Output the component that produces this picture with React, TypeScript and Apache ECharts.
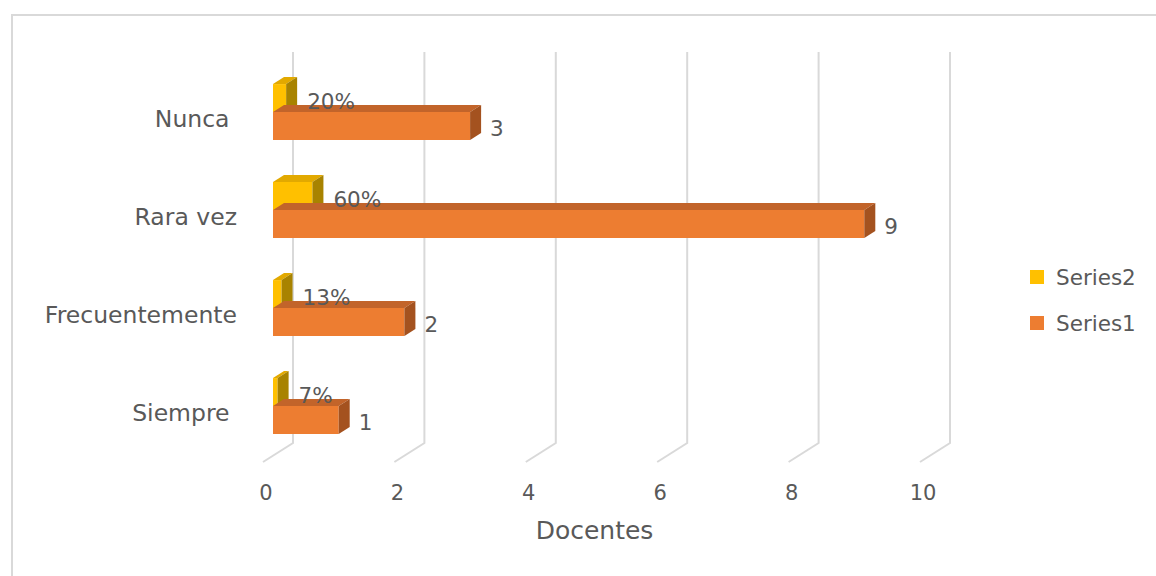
import React, { useEffect, useRef } from "react";
import * as echarts from "echarts";

const categories = ["Nunca ", "Rara vez", "Frecuentemente", "Siempre "];
const series1 = [3, 9, 2, 1];
const series2 = [0.2, 0.6, 0.13, 0.07];
const series2Labels = ["20%", "60%", "13%", "7%"];
const xTicks = [0, 2, 4, 6, 8, 10];

const FONT = '"DejaVu Sans", sans-serif';
const TEXT = "#595959";
const GRIDC = "#d9d9d9";
const DX = 11;
const DY = 7;

function barRender(face: string, top: string, side: string, upper: boolean) {
  return (params: any, api: any) => {
    const v = api.value(0);
    const cat = api.value(1);
    const start = api.coord([0, cat]);
    const end = api.coord([v, cat]);
    const band = api.size([0, 1])[1];
    const h = band * 0.285;
    const yt = upper ? start[1] - h : start[1];
    const yb = yt + h;
    const x0 = start[0];
    const x1 = end[0];
    return {
      type: "group",
      children: [
        { type: "rect", shape: { x: x0, y: yt, width: x1 - x0, height: h }, style: { fill: face } },
        {
          type: "polygon",
          shape: { points: [[x0, yt], [x1, yt], [x1 + DX, yt - DY], [x0 + DX, yt - DY]] },
          style: { fill: top },
        },
        {
          type: "polygon",
          shape: { points: [[x1, yt], [x1 + DX, yt - DY], [x1 + DX, yb - DY], [x1, yb]] },
          style: { fill: side },
        },
      ],
    };
  };
}

export default function App() {
  const ref = useRef<HTMLDivElement>(null);
  useEffect(() => {
    if (!ref.current) return;
    const chart = echarts.init(ref.current, null, { renderer: "svg" });
    const option: any = {
      animation: false,
      backgroundColor: "#ffffff",
      textStyle: { fontFamily: FONT },
      graphic: [
        {
          type: "rect",
          shape: { x: 12, y: 15, width: 1170, height: 600 },
          style: { fill: "none", stroke: GRIDC, lineWidth: 2 },
          silent: true,
        },
      ],
      grid: { left: 273, right: 226, top: 63, bottom: 121 },
      xAxis: {
        type: "value",
        min: 0,
        max: 10,
        interval: 2,
        axisLine: { show: false },
        axisTick: { show: false },
        splitLine: { show: false },
        axisLabel: {
          color: TEXT,
          fontSize: 21,
          fontFamily: FONT,
          margin: 27,
          padding: [0, 14, 0, 0],
        },
        name: "Docentes",
        nameLocation: "middle",
        nameGap: 63,
        nameTextStyle: {
          color: TEXT,
          fontSize: 25,
          fontFamily: FONT,
          padding: [0, 14, 0, 0],
        },
      },
      yAxis: {
        type: "category",
        data: categories,
        inverse: true,
        axisLine: { show: false },
        axisTick: { show: false },
        splitLine: { show: false },
        axisLabel: {
          color: TEXT,
          fontSize: 23.5,
          fontFamily: FONT,
          margin: 36,
          verticalAlign: "top",
          lineHeight: 14,
        },
      },
      legend: {
        orient: "vertical",
        left: 1025,
        top: 261,
        itemWidth: 14,
        itemHeight: 14,
        itemGap: 24,
        icon: "rect",
        data: ["Series2", "Series1"],
        textStyle: { color: TEXT, fontSize: 21.5, fontFamily: FONT, padding: [0, 0, 0, 7] },
      },
      series: [
        {
          type: "custom",
          name: "grid",
          silent: true,
          z: 1,
          data: xTicks.map((v) => [v, 0]),
          encode: { x: 0, y: 1 },
          renderItem: (params: any, api: any) => {
            const x = api.coord([api.value(0), 0])[0];
            const cs = params.coordSys;
            const top = cs.y - 11;
            const bot = cs.y + cs.height - 12;
            return {
              type: "polyline",
              shape: { points: [[x + 20, top], [x + 20, bot], [x - 10, bot + 19]] },
              style: { stroke: GRIDC, lineWidth: 2, fill: "none" },
            };
          },
        },
        {
          type: "custom",
          name: "Series2",
          z: 2,
          itemStyle: { color: "#FFC000" },
          data: series2.map((v, i) => [v, i]),
          encode: { x: 0, y: 1 },
          renderItem: barRender("#FFC000", "#E2A900", "#A88300", true),
        },
        {
          type: "custom",
          name: "Series1",
          z: 3,
          itemStyle: { color: "#ED7D31" },
          data: series1.map((v, i) => [v, i]),
          encode: { x: 0, y: 1 },
          renderItem: barRender("#ED7D31", "#C2642A", "#A4521F", false),
        },
        {
          type: "custom",
          name: "labels",
          silent: true,
          z: 4,
          data: series1.map((v, i) => [v, i, series2[i]]),
          encode: { x: 0, y: 1 },
          renderItem: (params: any, api: any) => {
            const v1 = api.value(0);
            const cat = api.value(1);
            const v2 = api.value(2);
            const idx = params.dataIndex;
            const c = api.coord([0, cat]);
            const band = api.size([0, 1])[1];
            const h = band * 0.285;
            const x1 = api.coord([v1, cat])[0];
            const x2 = api.coord([v2, cat])[0];
            return {
              type: "group",
              children: [
                {
                  type: "text",
                  x: x2 + DX + 10,
                  y: c[1] - h / 2 + 3,
                  style: {
                    text: series2Labels[idx],
                    fill: TEXT,
                    fontSize: 21.5,
                    fontFamily: FONT,
                    align: "left",
                    verticalAlign: "middle",
                  },
                },
                {
                  type: "text",
                  x: x1 + DX + 9,
                  y: c[1] + h / 2 + 3,
                  style: {
                    text: String(series1[idx]),
                    fill: TEXT,
                    fontSize: 21.5,
                    fontFamily: FONT,
                    align: "left",
                    verticalAlign: "middle",
                  },
                },
              ],
            };
          },
        },
      ],
    };
    chart.setOption(option);
    return () => chart.dispose();
  }, []);
  return (
    <div
      ref={ref}
      style={{ position: "fixed", left: 0, top: 0, width: 1156, height: 576 }}
    />
  );
}
